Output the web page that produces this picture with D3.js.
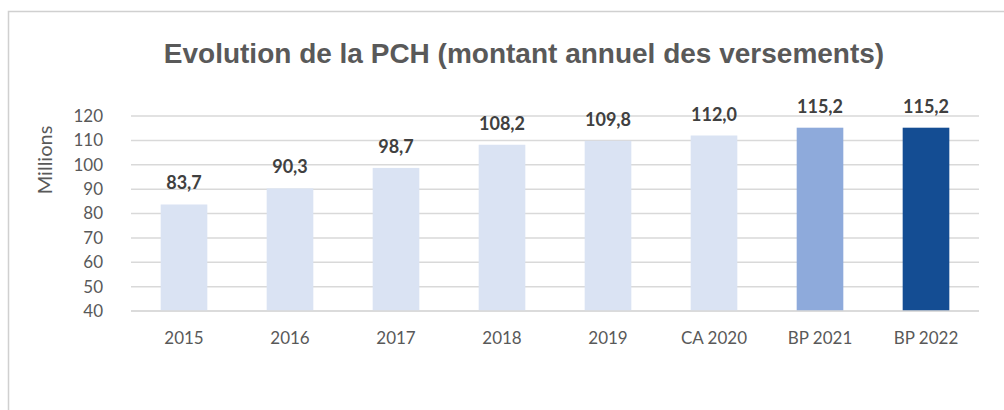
<!DOCTYPE html>
<html>
<head>
<meta charset="utf-8">
<script src="https://cdn.jsdelivr.net/npm/d3@7"></script>
<style>
  body { margin: 0; background: #fff; }
</style>
</head>
<body>
<script>
const categories = ["2015", "2016", "2017", "2018", "2019", "CA 2020", "BP 2021", "BP 2022"]
const values = [83.7, 90.3, 98.7, 108.2, 109.8, 112.0, 115.2, 115.2]
const barColors = ["#dae3f3", "#dae3f3", "#dae3f3", "#dae3f3", "#dae3f3", "#dae3f3", "#8eaadb", "#144d93"]
const yTicks = [40, 50, 60, 70, 80, 90, 100, 110, 120]

const width = 1004
const height = 410

const svg = d3.select("body")
    .append("svg")
    .attr("width", width)
    .attr("height", height)

// chart frame
svg.append("rect")
    .attr("x", 8.5)
    .attr("y", 11.5)
    .attr("width", 1010)
    .attr("height", 420)
    .attr("fill", "#fff")
    .attr("stroke", "#d0d0d0")
    .attr("stroke-width", 1.5)

svg.append("text")
    .attr("x", 524)
    .attr("y", 63)
    .attr("text-anchor", "middle")
    .attr("font-family", "Liberation Sans, Arial, sans-serif")
    .attr("font-weight", "bold")
    .attr("font-size", 28)
    .attr("fill", "#595959")
    .text("Evolution de la PCH (montant annuel des versements)")

const x = d3.scaleBand()
    .domain(categories)
    .range([131, 979])
    .paddingInner(0.56)
    .paddingOuter(0.28)

const y = d3.scaleLinear()
    .domain([40, 120])
    .range([311, 116])

// gridlines
svg.append("g")
    .selectAll("line")
    .data(yTicks)
    .join("line")
    .attr("x1", 131)
    .attr("x2", 979)
    .attr("y1", d => y(d))
    .attr("y2", d => y(d))
    .attr("stroke", "#d9d9d9")
    .attr("stroke-width", 1.5)

const yAxis = svg.append("g")
    .attr("transform", "translate(103,0)")
    .call(d3.axisLeft(y).tickValues(yTicks).tickSize(0).tickPadding(0))
yAxis.select(".domain").remove()
yAxis.selectAll("text")
    .attr("font-family", "Lato, Open Sans, sans-serif")
    .attr("font-size", 17)
    .attr("fill", "#595959")

svg.append("text")
    .attr("transform", "translate(52,160) rotate(-90)")
    .attr("text-anchor", "middle")
    .attr("font-family", "Lato, Open Sans, sans-serif")
    .attr("font-size", 20)
    .attr("fill", "#595959")
    .text("Millions")

svg.append("g")
    .selectAll("rect")
    .data(values)
    .join("rect")
    .attr("x", (d, i) => x(categories[i]))
    .attr("width", x.bandwidth())
    .attr("y", d => y(d))
    .attr("height", d => y(40) - y(d))
    .attr("fill", (d, i) => barColors[i])

// redraw baseline over bars
svg.append("line")
    .attr("x1", 131).attr("x2", 979)
    .attr("y1", y(40)).attr("y2", y(40))
    .attr("stroke", "#d9d9d9")
    .attr("stroke-width", 1.5)

svg.append("g")
    .selectAll("text")
    .data(values)
    .join("text")
    .attr("x", (d, i) => x(categories[i]) + x.bandwidth() / 2)
    .attr("y", d => y(d) - 15)
    .attr("text-anchor", "middle")
    .attr("font-family", "Lato, Open Sans, sans-serif")
    .attr("font-weight", "bold")
    .attr("font-size", 18)
    .attr("fill", "#404040")
    .text(d => d.toFixed(1).replace(".", ","))

const xAxis = svg.append("g")
    .attr("transform", `translate(0,${y(40)})`)
    .call(d3.axisBottom(x).tickSize(0).tickPadding(21))
xAxis.select(".domain").remove()
xAxis.selectAll("text")
    .attr("font-family", "Lato, Open Sans, sans-serif")
    .attr("font-size", 17)
    .attr("fill", "#595959")
</script>
</body>
</html>
